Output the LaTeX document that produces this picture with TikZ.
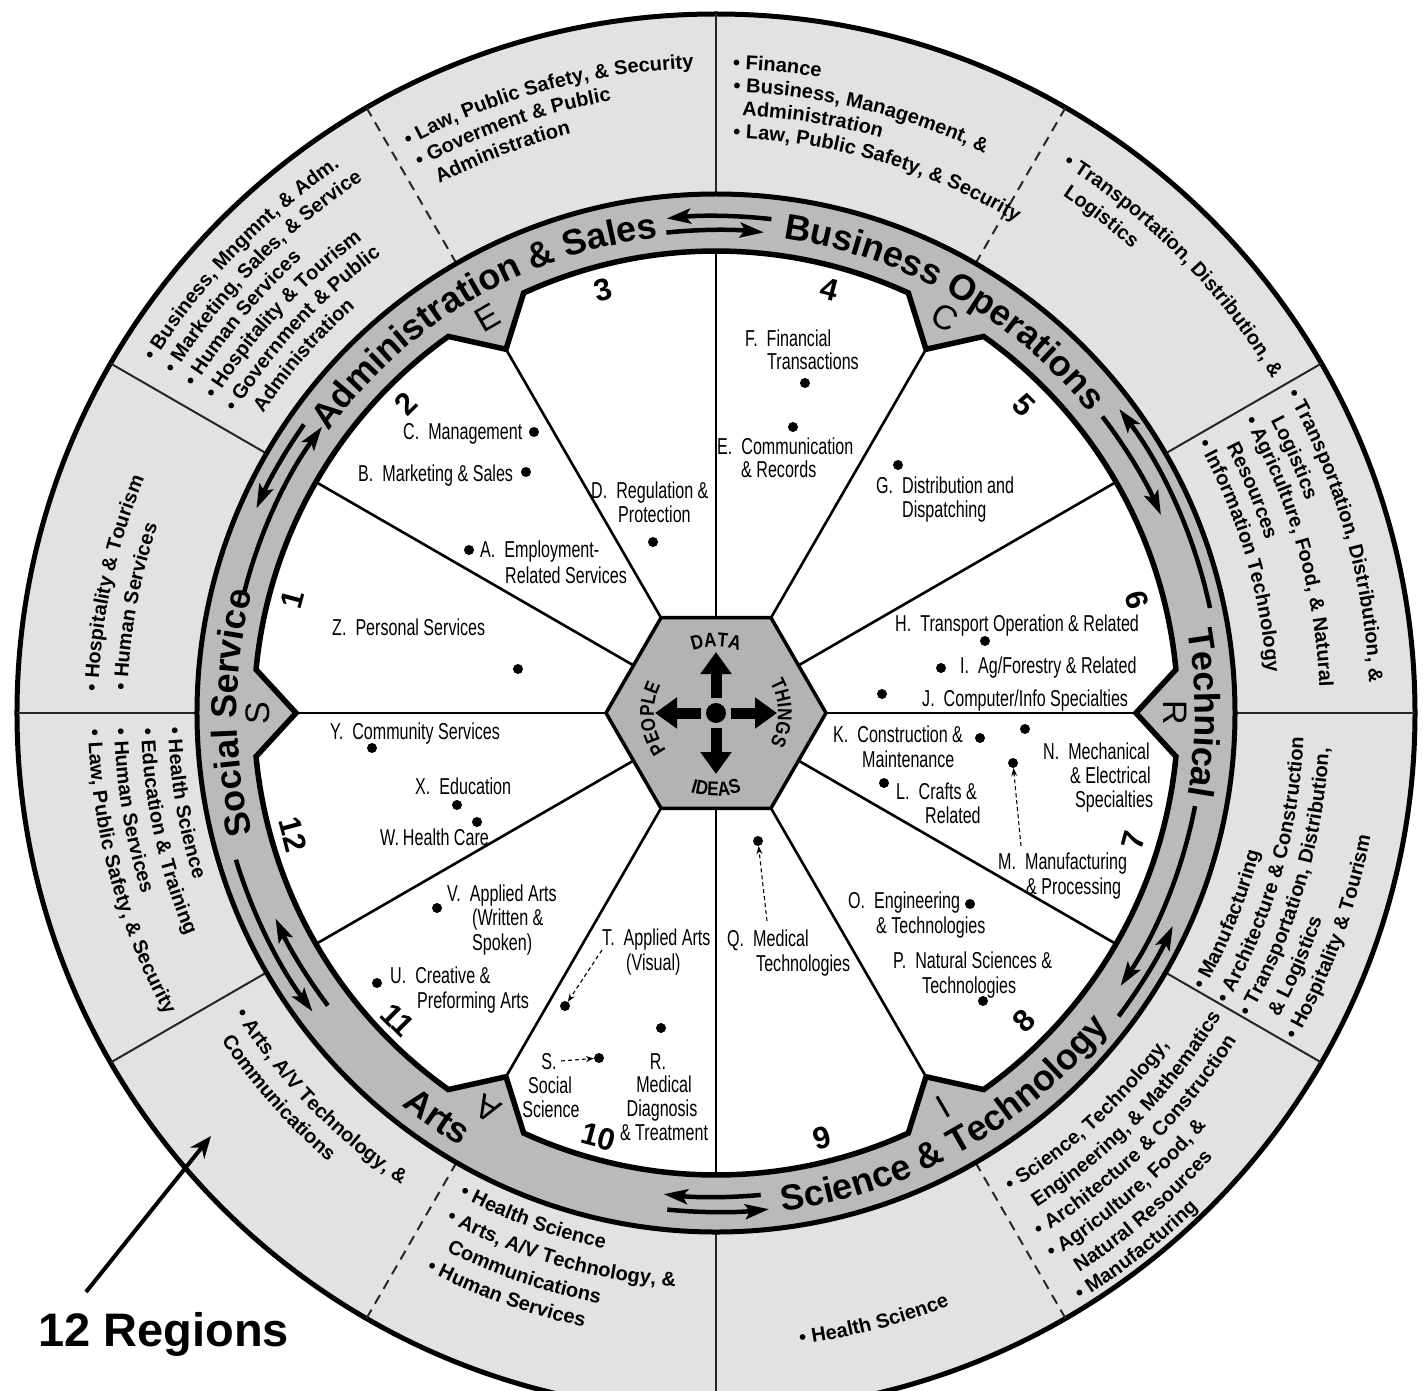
\documentclass[tikz,border=0pt]{standalone}
\usepackage{fontspec}
\setmainfont{Liberation Sans}
\newfontfamily\condfont[FakeStretch=0.7]{Liberation Sans}
\newfontfamily\hexfont[FakeStretch=0.85]{Liberation Sans}
\usetikzlibrary{arrows.meta,decorations.text}
\definecolor{ringgray}{RGB}{225,226,228}
\definecolor{bandgray}{RGB}{185,186,188}
\definecolor{hexgray}{RGB}{178,179,181}
\newcommand\ringfont{\fontsize{20}{24}\selectfont\bfseries}
\newcommand\bandfont{\fontsize{36}{42}\selectfont\bfseries}
\newcommand\hexlabfont{\hexfont\fontsize{20}{23}\selectfont\bfseries}
\newcommand\lgap{\hspace{9pt}}
\newcommand\arctext[4]{\path[decorate,decoration={text along path,text={#4},text align=left}] (#2:#1) arc[start angle=#2,end angle=#3,radius=#1];}
\newcommand\arctextc[4]{\path[decorate,decoration={text along path,text={#4},text align=center}] (#2:#1) arc[start angle=#2,end angle=#3,radius=#1];}
\begin{document}
\begin{tikzpicture}[x=1pt,y=1pt,
  lab/.style={font=\condfont\fontsize{23}{25}\selectfont, anchor=base west, inner sep=0pt},
  labc/.style={font=\condfont\fontsize{23}{25}\selectfont, anchor=base, inner sep=0pt},
  dot/.style={circle, fill=black, inner sep=0pt, minimum size=10pt},
  dasharrow/.style={line width=1.1pt, dash pattern=on 4pt off 3pt, -{Stealth[length=8pt,width=6pt]}},
  bandarrow/.style={line width=4.5pt, -{Stealth[length=24pt,width=15pt,inset=5pt]}},
  letterstyle/.style={font=\fontsize{34}{38}\selectfont, inner sep=0pt},
  numstyle/.style={font=\fontsize{31}{36}\selectfont\bfseries, inner sep=0pt},
  imgc/.style={shift={(-716,713)},yscale=-1}]
\useasboundingbox (-716,-677) rectangle (707,713);
\fill[white] (-716,-677) rectangle (707,713);
\begin{scope}
\clip (-716,-677) rectangle (707,713);
% outer ring
\draw[line width=5pt, fill=ringgray] (0,0) circle[radius=699];
\foreach \a in {0,30,90,150,180,210,270,330} \draw[line width=2pt, black!85] (\a:519) -- (\a:699);
\foreach \a in {60,120,240,300} \draw[line width=2pt, black!85, dash pattern=on 10pt off 7pt] (\a:519) -- (\a:699);
% band
\draw[line width=5pt, fill=bandgray] (0,0) circle[radius=519];
% inner white region with notches
\draw[line width=5.5pt, fill=white, line join=miter] (5.4:462) arc[start angle=5.4,end angle=54.6,radius=462] -- (60:420) -- (65.4:462) arc[start angle=65.4,end angle=114.6,radius=462] -- (120:420) -- (125.4:462) arc[start angle=125.4,end angle=174.6,radius=462] -- (180:420) -- (185.4:462) arc[start angle=185.4,end angle=234.6,radius=462] -- (240:420) -- (245.4:462) arc[start angle=245.4,end angle=294.6,radius=462] -- (300:420) -- (305.4:462) arc[start angle=305.4,end angle=354.6,radius=462] -- (0:420) -- cycle;
% spokes
\foreach \a in {0,60,...,300} \draw[line width=2.6pt] (\a:110) -- (\a:420);
\foreach \a in {30,90,...,330} \draw[line width=2.6pt] (\a:95.3) -- (\a:462);
% hexagon
\draw[line width=3.5pt, fill=hexgray, line join=miter] (0:110) -- (60:110) -- (120:110) -- (180:110) -- (240:110) -- (300:110) -- cycle;
\fill (0,0) circle[radius=10];
\foreach \a in {0,90,180,270} \draw[line width=11pt, -{Triangle[length=22pt,width=30pt]}] (\a:15) -- (\a:61);
\arctextc{66}{135}{45}{|\hexlabfont|DATA}
\arctextc{83}{225}{315}{|\hexlabfont|IDEAS}
\arctextc{62}{230}{140}{|\hexlabfont|PEOPLE}
\arctextc{62}{45}{-45}{|\hexlabfont|THINGS}
% band arrows
\draw[bandarrow] (83.6:497) arc[start angle=83.6,end angle=95.7,radius=497];
\draw[bandarrow] (95.9:483) arc[start angle=95.9,end angle=84.3,radius=483];
\draw[bandarrow] (275.3:484) arc[start angle=275.3,end angle=263.8,radius=484];
\draw[bandarrow] (264.4:499) arc[start angle=264.4,end angle=276.1,radius=499];
\draw[bandarrow] (166:487) arc[start angle=166,end angle=144,radius=487];
\draw[bandarrow] (145:503) arc[start angle=145,end angle=156,radius=503];
\draw[bandarrow] (12:505) arc[start angle=12,end angle=37,radius=505];
\draw[bandarrow] (37.5:487) arc[start angle=37.5,end angle=24,radius=487];
\draw[bandarrow] (197:502) arc[start angle=197,end angle=216.5,radius=502];
\draw[bandarrow] (217:486) arc[start angle=217,end angle=205,radius=486];
\draw[bandarrow] (349:488) arc[start angle=349,end angle=326,radius=488];
\draw[bandarrow] (323:504) arc[start angle=323,end angle=335,radius=504];
% band labels
\arctextc{479}{150.5}{90.5}{|\bandfont|Administration {\&} Sales}
\arctextc{479}{90.4}{30.4}{|\bandfont|Business Operations}
\arctextc{479}{25}{-25}{|\bandfont|Technical}
\arctextc{479}{205}{155}{|\bandfont|Social Service}
\arctextc{503}{269.5}{329.5}{|\bandfont|Science {\&} Technology}
\arctextc{503}{215.4}{255.4}{|\bandfont|Arts}
% notch letters
\node[letterstyle, rotate=30] (lE) at (120:457) {E};
\node[letterstyle, rotate=-30] (lC) at (60:457) {C};
\node[letterstyle, rotate=-90] (lR) at (0:459) {R};
\node[letterstyle, rotate=210] (lI) at (300:455) {I};
\node[letterstyle, rotate=150] (lA) at (240:457) {A};
\node[letterstyle, rotate=90] (lS) at (180:458) {S};
% numbers
\node[numstyle, rotate=75] (n1) at (165:438) {1};
\node[numstyle, rotate=45] (n2) at (135:438) {2};
\node[numstyle, rotate=15] (n3) at (105:438) {3};
\node[numstyle, rotate=-15] (n4) at (75:438) {4};
\node[numstyle, rotate=-45] (n5) at (45:436) {5};
\node[numstyle, rotate=-75] (n6) at (15:436) {6};
\node[numstyle, rotate=75] (n7) at (-17:436) {7};
\node[numstyle, rotate=45] (n8) at (-45:436) {8};
\node[numstyle, rotate=15] (n9) at (-76:438) {9};
\node[numstyle, rotate=-15] (n10) at (-105.5:440) {10};
\node[numstyle, rotate=-45] (n11) at (-136:442) {11};
\node[numstyle, rotate=-75] (n12) at (-164:440) {12};
% outer ring texts
% 60-90
\arctext{644}{88.5}{40}{|\ringfont|• Finance}
\arctext{621}{88.4}{40}{|\ringfont|• Business, Management, {\&}}
\arctext{598}{87.5}{40}{|\ringfont|Administration}
\arctext{575}{88.3}{40}{|\ringfont|• Law, Public Safety, {\&} Security}
% 90-120
\arctext{645}{118.5}{70}{|\ringfont|• Law, Public Safety, {\&} Security}
\arctext{621}{118.5}{70}{|\ringfont|• Goverment {\&} Public}
\arctext{597}{117.6}{70}{|\ringfont|Administration}
% 120-150
\arctext{663}{148}{100}{|\ringfont|• Business, Mngmnt, {\&} Adm.}
\arctext{639}{148}{100}{|\ringfont|• Marketing, Sales, {\&} Service}
\arctext{615}{148}{100}{|\ringfont|• Human Services}
\arctext{591}{148}{100}{|\ringfont|• Hospitality {\&} Tourism}
\arctext{567}{148}{100}{|\ringfont|• Government {\&} Public}
\arctext{543}{146.5}{100}{|\ringfont|Administration}
% 150-180
\arctext{618}{178}{120}{|\ringfont|• Hospitality {\&} Tourism}
\arctext{589}{177.8}{120}{|\ringfont|• Human Services}
% 180-210
\arctext{548}{181.5}{240}{|\ringfont|• Health Science}
\arctext{575}{181.5}{240}{|\ringfont|• Education {\&} Training}
\arctext{602}{181.5}{240}{|\ringfont|• Human Services}
\arctext{628}{181.5}{240}{|\ringfont|• Law, Public Safety, {\&} Security}
% 210-240
\arctext{567}{212}{270}{|\ringfont|• Arts, A/V Technology, {\&}}
\arctext{593}{213.5}{270}{|\ringfont|Communications}
% 240-270
\arctext{547}{242}{300}{|\ringfont|• Health Science}
\arctext{575}{242}{300}{|\ringfont|• Arts, A/V Technology, {\&}}
\arctext{602}{243.4}{300}{|\ringfont|Communications}
\arctext{628}{242.5}{300}{|\ringfont|• Human Services}
% 270-300
\arctext{637}{277.6}{330}{|\ringfont|• Health Science}
% 300-330
\arctext{562}{301.6}{360}{|\ringfont|• Science, Technology,}
\arctext{589}{303}{360}{|\ringfont|Engineering, {\&} Mathematics}
\arctext{615}{301.7}{360}{|\ringfont|• Architecture {\&} Construction}
\arctext{641}{301.6}{360}{|\ringfont|• Agriculture, Food, {\&}}
\arctext{667}{303}{360}{|\ringfont|Natural Resources}
\arctext{691}{301.8}{360}{|\ringfont|• Manufacturing}
% 330-360
\arctext{561}{330.3}{400}{|\ringfont|• Manufacturing}
\arctext{588}{330.3}{400}{|\ringfont|• Architecture {\&} Construction}
\arctext{614}{330.3}{400}{|\ringfont|• Transportation, Distribution,}
\arctext{640}{331.6}{400}{|\ringfont|{\&} Logistics}
\arctext{666}{330.5}{400}{|\ringfont|• Hospitality {\&} Tourism}
% 0-30
\arctext{654}{29.2}{-30}{|\ringfont|• Transportation, Distribution, {\&}}
\arctext{627}{27.8}{-30}{|\ringfont|Logistics}
\arctext{604}{29}{-30}{|\ringfont|• Agriculture, Food, {\&} Natural}
\arctext{576}{27.6}{-30}{|\ringfont|Resources}
\arctext{552}{29.2}{-30}{|\ringfont|• Information Technology}
% 30-60
\arctext{649}{57.7}{0}{|\ringfont|• Transportation, Distribution, {\&}}
\arctext{623}{56.2}{0}{|\ringfont|Logistics}
% image-coordinate items
\begin{scope}[imgc]
\node[dot] (dC) at (534,432) {};
\node[dot] (dB) at (526,472) {};
\node[dot] (dD) at (653,542) {};
\node[dot] (dA) at (469,550) {};
\node[dot] (dF) at (805,383) {};
\node[dot] (dE) at (793,427) {};
\node[dot] (dG) at (898,465) {};
\node[dot] (dZ) at (518,669) {};
\node[dot] (dH) at (985,641) {};
\node[dot] (dI) at (941,668) {};
\node[dot] (dJ) at (882,694) {};
\node[dot] (dY) at (372,748) {};
\node[dot] (dK) at (980,738) {};
\node[dot] (dN) at (1025,729) {};
\node[dot] (dM) at (1013,763) {};
\node[dot] (dL) at (884,783) {};
\node[dot] (dX) at (457,805) {};
\node[dot] (dW) at (477,822) {};
\node[dot] (dV) at (437,908) {};
\node[dot] (dO) at (970,904) {};
\node[dot] (dT) at (565,1006) {};
\node[dot] (dQ) at (758,841) {};
\node[dot] (dP) at (983,1001) {};
\node[dot] (dU) at (377,983) {};
\node[dot] (dR) at (661,1028) {};
\node[dot] (dS) at (599,1058) {};
\node[lab] (tC) at (403,439) {C.\lgap Management};
\node[lab] (tB) at (358,481) {B.\lgap Marketing \& Sales};
\node[lab] (tD1) at (591,498) {D.\lgap Regulation \&};
\node[lab] (tD2) at (618,522) {Protection};
\node[lab] (tA1) at (480,557) {A.\lgap Employment-};
\node[lab] (tA2) at (505,583) {Related Services};
\node[lab] (tF1) at (745,347) {F.\lgap Financial};
\node[lab] (tF2) at (767,370) {Transactions};
\node[lab] (tE1) at (717,454) {E.\lgap Communication};
\node[lab] (tE2) at (741,477) {\& Records};
\node[lab] (tG1) at (876,493) {G.\lgap Distribution and};
\node[lab] (tG2) at (902,517) {Dispatching};
\node[lab] (tZ) at (332,635) {Z.\lgap Personal Services};
\node[lab] (tH) at (895,631) {H.\lgap Transport Operation \& Related};
\node[lab] (tI) at (960,673) {I.\lgap Ag/Forestry \& Related};
\node[lab] (tJ) at (922,706) {J.\lgap Computer/Info Specialties};
\node[lab] (tY) at (330,739) {Y.\lgap Community Services};
\node[lab] (tK1) at (833,742) {K.\lgap Construction \&};
\node[lab] (tK2) at (862,767) {Maintenance};
\node[lab] (tN1) at (1043,759) {N.\lgap Mechanical};
\node[lab] (tN2) at (1070,783) {\& Electrical};
\node[lab] (tN3) at (1075,807) {Specialties};
\node[lab] (tL1) at (896,799) {L.\lgap Crafts \&};
\node[lab] (tL2) at (925,823) {Related};
\node[lab] (tX) at (415,794) {X.\lgap Education};
\node[lab] (tW) at (380,845) {W.\hspace{4pt}Health Care};
\node[lab] (tM1) at (998,869) {M.\lgap Manufacturing};
\node[lab] (tM2) at (1026,894) {\& Processing};
\node[lab] (tV1) at (447,901) {V.\lgap Applied Arts};
\node[lab] (tV2) at (472,925) {(Written \&};
\node[lab] (tV3) at (472,950) {Spoken)};
\node[lab] (tO1) at (848,908) {O.\lgap Engineering};
\node[lab] (tO2) at (876,933) {\& Technologies};
\node[lab] (tT1) at (602,945) {T.\lgap Applied Arts};
\node[lab] (tT2) at (626,970) {(Visual)};
\node[lab] (tQ1) at (727,946) {Q.\lgap Medical};
\node[lab] (tQ2) at (756,971) {Technologies};
\node[lab] (tP1) at (893,968) {P.\lgap Natural Sciences \&};
\node[lab] (tP2) at (922,993) {Technologies};
\node[lab] (tU1) at (390,983) {U.\lgap Creative \&};
\node[lab] (tU2) at (417,1008) {Preforming Arts};
\node[labc] (tR1) at (658,1069) {R.};
\node[labc] (tR2) at (664,1092) {Medical};
\node[labc] (tR3) at (662,1116) {Diagnosis};
\node[labc] (tR4) at (664,1140) {\& Treatment};
\node[labc] (tS1) at (549,1069) {S.};
\node[labc] (tS2) at (550,1093) {Social};
\node[labc] (tS3) at (551,1117) {Science};
\coordinate (mTail) at (1021,846);
\coordinate (qTail) at (767,921);
\coordinate (tTail) at (602,950);
\coordinate (sTail) at (561,1061);
\draw[dasharrow] (mTail) -- (dM);
\draw[dasharrow] (qTail) -- (dQ);
\draw[dasharrow] (tTail) -- (dT);
\draw[dasharrow] (sTail) -- (dS);
\node[font=\fontsize{47}{54}\selectfont\bfseries, anchor=base west, inner sep=0pt] (regions) at (38,1346) {12 Regions};
\coordinate (regA) at (86,1292);
\coordinate (regB) at (211,1136);
\draw[line width=4pt, -{Stealth[length=22pt,width=18pt]}] (regA) -- (regB);
\end{scope}
\end{scope}
\end{tikzpicture}
\end{document}
